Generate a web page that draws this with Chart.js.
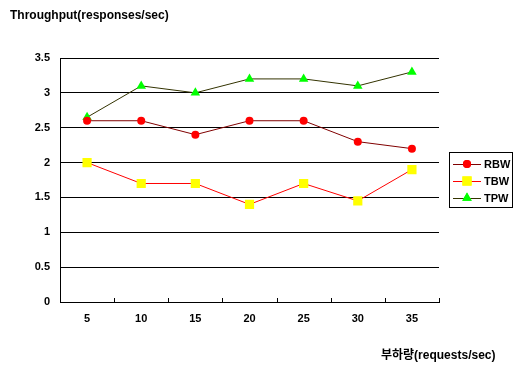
<!DOCTYPE html>
<html>
<head>
<meta charset="utf-8">
<script src="https://cdn.jsdelivr.net/npm/chart.js@4.4.1/dist/chart.umd.min.js"></script>
<style>
  html, body { margin: 0; padding: 0; background: #fff; }
  #wrap { width: 521px; height: 366px; }
</style>
</head>
<body>
<div id="wrap"><canvas id="c" width="521" height="366"></canvas></div>
<script>
const categories = ['5', '10', '15', '20', '25', '30', '35'];
const rbw = [2.6, 2.6, 2.4, 2.6, 2.6, 2.3, 2.2];
const tbw = [2.0, 1.7, 1.7, 1.4, 1.7, 1.45, 1.9];
const tpw = [2.65, 3.1, 3.0, 3.2, 3.2, 3.1, 3.3];
const yTicks = [0, 0.5, 1, 1.5, 2, 2.5, 3, 3.5];

const FONT = '"Liberation Sans", Arial, "Noto Sans CJK KR", sans-serif';

const series = [
  { label: 'RBW', data: rbw, line: '#800000', fill: '#ff0000', style: 'circle', radius: 4 },
  { label: 'TBW', data: tbw, line: '#ff0000', fill: '#ffff00', style: 'rect', radius: 6.5 },
  { label: 'TPW', data: tpw, line: '#333300', fill: '#00ff00', style: 'triangle', radius: 5.5 }
];

// inward tick marks between categories on the x axis
const innerTicks = {
  id: 'innerTicks',
  afterDatasetsDraw(chart) {
    const ctx = chart.ctx;
    const xs = chart.scales.x;
    const area = chart.chartArea;
    const n = xs.ticks.length;
    const step = (xs.getPixelForValue(n - 1) - xs.getPixelForValue(0)) / (n - 1);
    ctx.save();
    ctx.strokeStyle = '#000';
    ctx.lineWidth = 1;
    ctx.beginPath();
    for (let i = 0; i <= n; i++) {
      const x = Math.round(xs.getPixelForValue(0) + (i - 0.5) * step) + 0.5;
      ctx.moveTo(x, area.bottom);
      ctx.lineTo(x, area.bottom - 4);
    }
    ctx.stroke();
    ctx.restore();
  }
};

// axis titles and the boxed legend are painted directly on the canvas
const decorations = {
  id: 'decorations',
  afterDraw(chart) {
    const ctx = chart.ctx;
    ctx.save();
    ctx.fillStyle = '#000';
    ctx.font = 'bold 12px ' + FONT;
    ctx.textBaseline = 'middle';
    ctx.textAlign = 'left';
    ctx.fillText('Throughput(responses/sec)', 10, 16);
    ctx.fillText('부하량(requests/sec)', 381, 356);

    // legend box
    const bx = 449.5, by = 152.5, bw = 63, bh = 55;
    ctx.strokeStyle = '#000';
    ctx.lineWidth = 1;
    ctx.strokeRect(bx, by, bw, bh);
    ctx.font = 'bold 11px ' + FONT;
    series.forEach((s, i) => {
      const y = 164 + i * 17;
      ctx.strokeStyle = s.line;
      ctx.lineWidth = 1;
      ctx.beginPath();
      ctx.moveTo(453, y + 0.5);
      ctx.lineTo(481, y + 0.5);
      ctx.stroke();
      ctx.fillStyle = s.fill;
      Chart.helpers.drawPoint(ctx, { pointStyle: s.style, radius: s.radius, borderWidth: 0 }, 467, y);
      ctx.fill();
      ctx.fillStyle = '#000';
      ctx.fillText(s.label, 484, y + 0.5);
    });
    ctx.restore();
  }
};

new Chart(document.getElementById('c'), {
  type: 'line',
  data: {
    labels: categories,
    datasets: series.map(s => ({
      label: s.label,
      data: s.data,
      borderColor: s.line,
      borderWidth: 1,
      backgroundColor: s.fill,
      pointBackgroundColor: s.fill,
      pointBorderColor: s.fill,
      pointBorderWidth: 0,
      pointStyle: s.style,
      pointRadius: s.radius,
      pointHoverRadius: s.radius,
      tension: 0,
      fill: false
    }))
  },
  options: {
    responsive: false,
    animation: false,
    events: [],
    layout: { padding: { top: 58, right: 82, bottom: 0, left: 0 } },
    plugins: { legend: { display: false }, tooltip: { enabled: false }, title: { display: false } },
    scales: {
      x: {
        type: 'category',
        offset: true,
        grid: { display: false },
        border: { display: true, color: '#000', width: 1 },
        ticks: { color: '#000', font: { family: FONT, size: 11, weight: 'bold' }, padding: 2, maxRotation: 0 },
        afterFit(axis) { axis.height = 64; }
      },
      y: {
        min: 0,
        max: 3.5,
        afterBuildTicks(axis) { axis.ticks = yTicks.map(v => ({ value: v })); },
        grid: { color: '#000', lineWidth: 1, drawTicks: false },
        border: { display: true, color: '#000', width: 1 },
        ticks: {
          color: '#000',
          font: { family: FONT, size: 11, weight: 'bold' },
          padding: 10,
          callback: v => String(v)
        },
        afterFit(axis) { axis.width = 60; }
      }
    }
  },
  plugins: [innerTicks, decorations]
});
</script>
</body>
</html>
